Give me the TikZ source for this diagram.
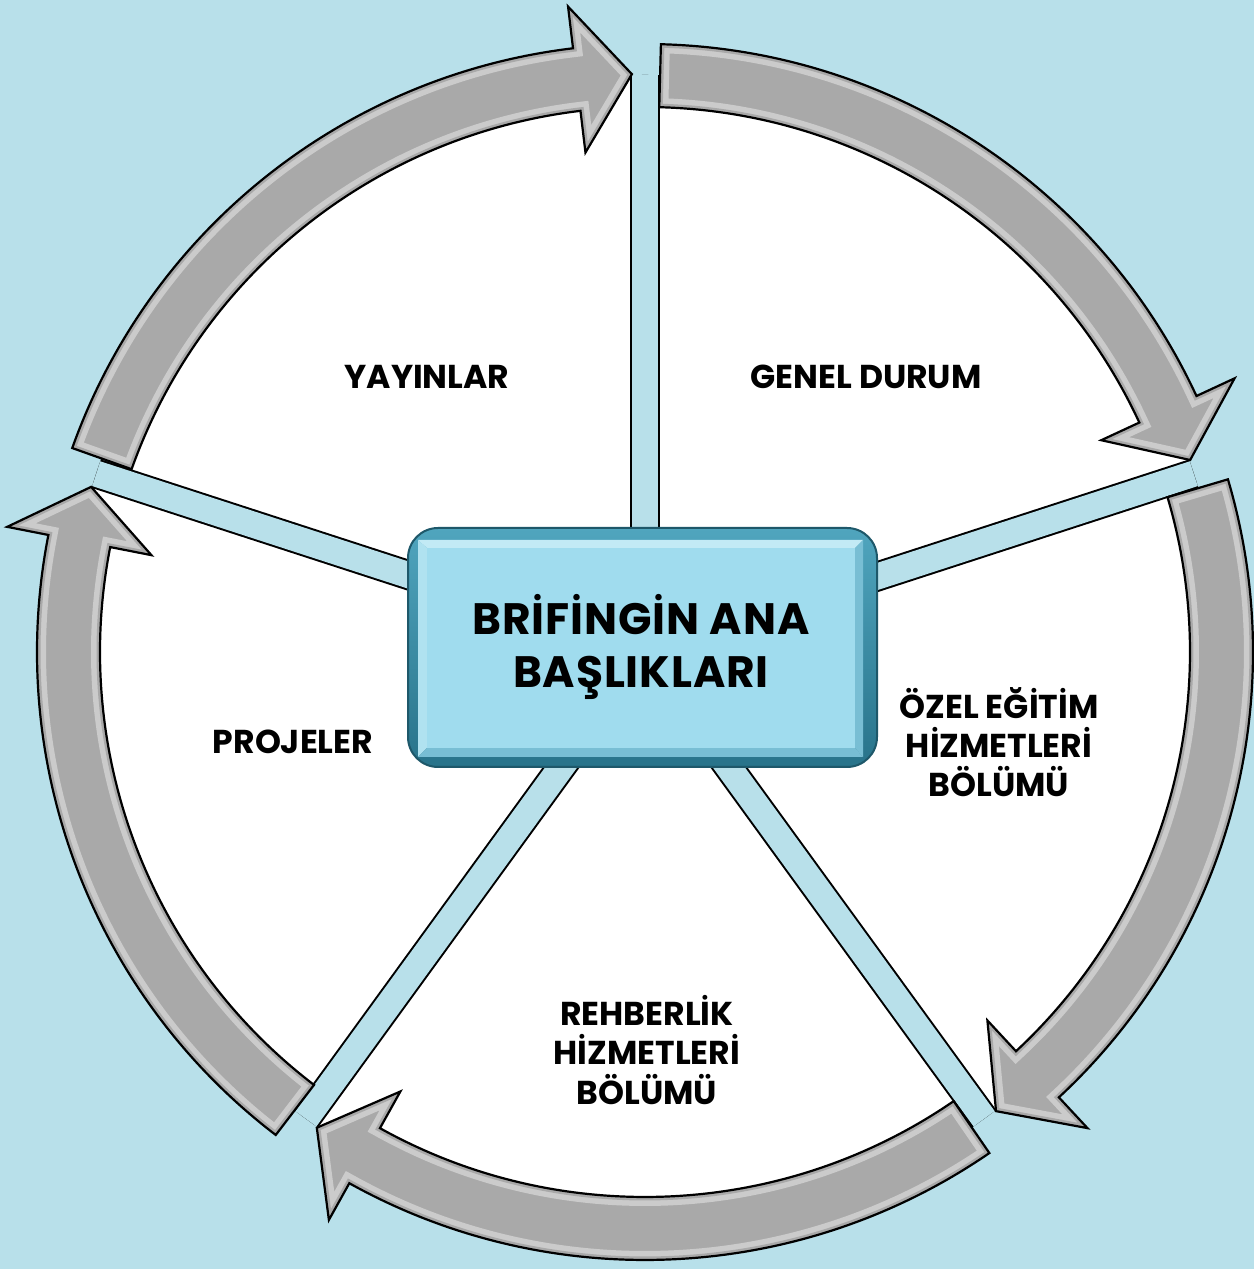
\documentclass[tikz,border=0pt]{standalone}
\usepackage{fontspec}
\setmainfont{Poppins}
\newfontfamily\titlefont{Poppins}[LetterSpace=2.0]
\definecolor{bgblue}{RGB}{184,224,234}
\definecolor{arrowgray}{RGB}{169,169,169}
\definecolor{boxface}{RGB}{160,220,238}
\definecolor{boxtop}{RGB}{194,234,245}
\definecolor{boxleft}{RGB}{176,226,240}
\definecolor{boxdark}{RGB}{120,190,212}
\definecolor{boxrimtop}{RGB}{80,165,190}
\definecolor{boxrimbot}{RGB}{40,115,138}
\definecolor{boxline}{RGB}{30,88,106}
\newcommand\arrpath[2]{(#1:608) arc[start angle=#1, end angle={#2+5.5}, radius=608] -- ({#2+5.5}:650) -- (#2:578) -- ({#2+5.5}:503) -- ({#2+5.5}:545) arc[start angle={#2+5.5}, end angle=#1, radius=545] -- cycle}
\newcommand\bevelarrow[2]{%
  \fill[arrowgray] \arrpath{#1}{#2};
  \begin{scope}
    \clip \arrpath{#1}{#2};
    \draw[white, opacity=.4, line width=0.18cm] \arrpath{#1}{#2};
    \draw[arrowgray, line width=0.07cm] \arrpath{#1}{#2};
  \end{scope}
  \draw[black, line width=0.022cm, line join=miter] \arrpath{#1}{#2};
}
\begin{document}
\begin{tikzpicture}[x=0.01cm,y=0.01cm,
  lbl/.style={font=\fontsize{9.4}{11.1}\selectfont\bfseries, align=center, text=black, inner sep=0pt},
  title/.style={font=\fontsize{12.5}{15.1}\selectfont\titlefont\bfseries, align=center, text=black, inner sep=0pt}]
\useasboundingbox (0,0) rectangle (1254,1269);
\fill[bgblue] (0,0) rectangle (1254,1269);
\begin{scope}[shift={(645,617)}]
  \fill[white, draw=black, line width=0.02cm] (0,0) circle[radius=576];
  \foreach \a in {90,18,-54,-126,162} {
    \draw[black, line width=0.30cm] (0,0) -- (\a:576);
    \draw[bgblue, line width=0.26cm] (0,0) -- (\a:577);
  }
  \bevelarrow{160.4}{91.3}
  \bevelarrow{88.5}{19.4}
  \bevelarrow{16.5}{-52.6}
  \bevelarrow{-55.5}{-124.6}
  \bevelarrow{-127.4}{-196.6}
\end{scope}
% central box
\shade[top color=boxrimtop, bottom color=boxrimbot, draw=boxline, line width=0.02cm, rounded corners=0.3cm] (408,502) rectangle (877,741);
\fill[boxtop] (418,729) -- (863,729) -- (855,721) -- (427,721) -- cycle;
\fill[boxleft] (418,729) -- (427,721) -- (427,521) -- (418,512) -- cycle;
\fill[boxdark] (418,512) -- (427,521) -- (855,521) -- (863,512) -- cycle;
\fill[boxdark] (863,729) -- (863,512) -- (855,521) -- (855,721) -- cycle;
\fill[boxface] (427,521) rectangle (855,721);
\node[title] (main) at (641,622) {BRİFİNGİN ANA\\BAŞLIKLARI};
\node[lbl] (yay) at (427,892) {YAYINLAR};
\node[lbl] (gen) at (866,892) {GENEL DURUM};
\node[lbl] (ozel) at (999,527) {ÖZEL EĞİTİM\\HİZMETLERİ\\BÖLÜMÜ};
\node[lbl] (reh) at (647,219) {REHBERLİK\\HİZMETLERİ\\BÖLÜMÜ};
\node[lbl] (proj) at (293,527) {PROJELER};
\end{tikzpicture}
\end{document}
